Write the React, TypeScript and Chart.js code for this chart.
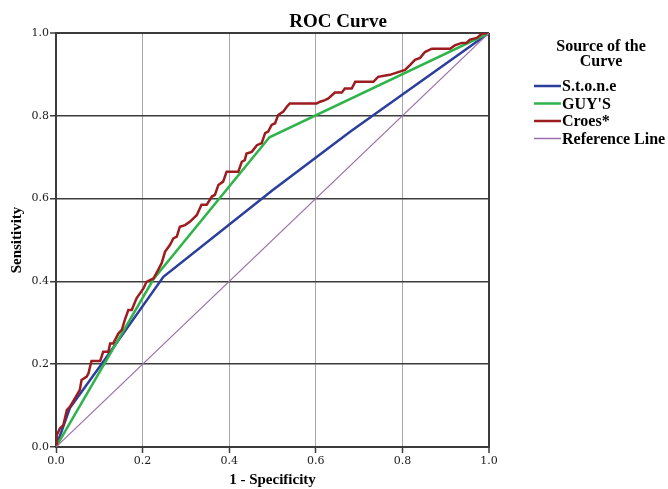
import React, { useEffect, useRef } from "react";
import { Chart, registerables } from "chart.js";

Chart.register(...registerables);

const chartTitle = "ROC Curve";
const legendTitle = ["Source of the", "Curve"];
const seriesNames = ["S.t.o.n.e", "GUY'S", "Croes*", "Reference Line"];
const tickLabels = ["0.0", "0.2", "0.4", "0.6", "0.8", "1.0"];
const xAxisTitle = "1 - Specificity";
const yAxisTitle = "Sensitivity";

const stoneX = [0, 0.032, 0.105, 0.248, 0.5, 0.533, 0.68, 1];
const stoneY = [0, 0.094, 0.2, 0.411, 0.62, 0.646, 0.762, 1];

const guysX = [0, 0.225, 0.493, 1];
const guysY = [0, 0.405, 0.748, 1];

const croesX = [
  0, 0.002, 0.009, 0.017, 0.025, 0.032, 0.044, 0.055, 0.059, 0.071, 0.075, 0.082, 0.102, 0.109, 0.121,
  0.125, 0.132, 0.144, 0.152, 0.159, 0.167, 0.175, 0.186, 0.202, 0.209, 0.225, 0.236, 0.244, 0.252,
  0.263, 0.271, 0.279, 0.286, 0.298, 0.309, 0.325, 0.336, 0.348, 0.36, 0.367, 0.375, 0.386, 0.394,
  0.421, 0.429, 0.436, 0.44, 0.452, 0.464, 0.475, 0.483, 0.49, 0.498, 0.506, 0.513, 0.525, 0.533,
  0.54, 0.602, 0.61, 0.621, 0.629, 0.644, 0.66, 0.667, 0.683, 0.691, 0.733, 0.744, 0.771, 0.806,
  0.818, 0.829, 0.841, 0.852, 0.868, 0.91, 0.921, 0.937, 0.948, 0.956, 0.972, 0.983, 1,
];
const croesY = [
  0, 0.029, 0.045, 0.053, 0.089, 0.097, 0.118, 0.138, 0.162, 0.17, 0.178, 0.208, 0.208, 0.23, 0.23,
  0.25, 0.25, 0.274, 0.283, 0.307, 0.331, 0.331, 0.359, 0.383, 0.399, 0.407, 0.428, 0.444, 0.472,
  0.488, 0.504, 0.508, 0.532, 0.536, 0.544, 0.56, 0.585, 0.585, 0.605, 0.609, 0.633, 0.641, 0.665,
  0.665, 0.689, 0.693, 0.709, 0.713, 0.729, 0.734, 0.758, 0.762, 0.778, 0.782, 0.802, 0.81, 0.822,
  0.83, 0.83, 0.834, 0.838, 0.842, 0.856, 0.856, 0.866, 0.866, 0.882, 0.882, 0.894, 0.899, 0.911,
  0.923, 0.935, 0.94, 0.954, 0.962, 0.962, 0.97, 0.976, 0.976, 0.984, 0.988, 0.998, 1,
];

const refX = [0, 1];
const refY = [0, 1];

const COLORS = ["#2b3e9c", "#2fb34b", "#9c1c20", "#9b6fa8"];
const WIDTHS = [2.5, 2.5, 2.5, 1.2];
const DARK = "#3c3c3c";
const GRAY = "#a8a8a8";
const SERIF = "'Liberation Serif', 'Times New Roman', serif";
const TICKFONT = "'DejaVu Serif', serif";

const toPoints = (xs: number[], ys: number[]) => xs.map((x, i) => ({ x, y: ys[i] }));

const overlayPlugin = {
  id: "overlay",
  afterDraw(chart: any) {
    const ctx = chart.ctx;
    ctx.save();
    ctx.fillStyle = "#000";
    ctx.textBaseline = "middle";
    ctx.textAlign = "center";
    ctx.font = `bold 19px ${SERIF}`;
    ctx.fillText(chartTitle, 338, 22);

    ctx.font = `bold 16px ${SERIF}`;
    legendTitle.forEach((t, i) => ctx.fillText(t, 601, 47 + i * 15));

    ctx.textAlign = "left";
    chart.data.datasets.forEach((ds: any, i: number) => {
      const y = 86 + i * 17.5;
      ctx.strokeStyle = ds.borderColor;
      ctx.lineWidth = i === 3 ? 1.5 : 2.5;
      ctx.beginPath();
      ctx.moveTo(534, y);
      ctx.lineTo(561, y);
      ctx.stroke();
      ctx.fillText(ds.label, 562, y + 1);
    });
    ctx.restore();
  },
};

export default function App() {
  const ref = useRef<HTMLCanvasElement | null>(null);

  useEffect(() => {
    document.body.style.margin = "0";
    if (!ref.current) return;
    const series = [
      toPoints(stoneX, stoneY),
      toPoints(guysX, guysY),
      toPoints(croesX, croesY),
      toPoints(refX, refY),
    ];
    const chart = new Chart(ref.current, {
      type: "scatter",
      data: {
        datasets: series.map((pts, i) => ({
          label: seriesNames[i],
          data: pts,
          showLine: true,
          borderColor: COLORS[i],
          backgroundColor: COLORS[i],
          borderWidth: WIDTHS[i],
          pointRadius: 0,
          pointHoverRadius: 0,
          tension: 0,
          order: 3 - i,
        })),
      },
      options: {
        animation: false,
        responsive: false,
        events: [],
        layout: { padding: { left: 0, top: 33, right: 179, bottom: 0 } },
        plugins: {
          legend: { display: false },
          title: { display: false },
          tooltip: { enabled: false },
        },
        scales: {
          x: {
            type: "linear",
            min: 0,
            max: 1,
            afterFit: (s: any) => {
              s.height = 42;
            },
            ticks: {
              stepSize: 0.2,
              padding: 2,
              color: "#1a1a1a",
              font: { family: TICKFONT, size: 11 },
              callback: (v: any) => tickLabels[Math.round(Number(v) / 0.2)] ?? "",
              maxRotation: 0,
            },
            grid: {
              color: (c: any) => (c.tick && c.tick.value === 1 ? DARK : GRAY),
              lineWidth: (c: any) => (c.tick && c.tick.value === 1 ? 2 : 1),
              tickColor: DARK,
              tickLength: 6,
              tickWidth: 1.5,
            },
            border: { color: DARK, width: 2 },
            title: {
              display: true,
              text: xAxisTitle,
              color: "#000",
              font: { family: SERIF, size: 15, weight: "bold" },
              padding: 0,
            },
          },
          y: {
            type: "linear",
            min: 0,
            max: 1,
            afterFit: (s: any) => {
              s.width = 56;
            },
            ticks: {
              stepSize: 0.2,
              padding: 1,
              color: "#1a1a1a",
              font: { family: TICKFONT, size: 11 },
              callback: (v: any) => tickLabels[Math.round(Number(v) / 0.2)] ?? "",
            },
            grid: {
              color: DARK,
              lineWidth: (c: any) => (c.tick && c.tick.value === 1 ? 2 : 1.5),
              tickColor: DARK,
              tickLength: 6,
              tickWidth: 1.5,
            },
            border: { color: DARK, width: 2 },
            title: {
              display: true,
              text: yAxisTitle,
              color: "#000",
              font: { family: SERIF, size: 15, weight: "bold" },
              padding: { top: 8, bottom: 0 },
            },
          },
        },
      },
      plugins: [overlayPlugin],
    });
    return () => chart.destroy();
  }, []);

  return (
    <div style={{ width: 668, height: 489, background: "#fff" }}>
      <canvas ref={ref} width={668} height={489} style={{ display: "block" }} />
    </div>
  );
}
